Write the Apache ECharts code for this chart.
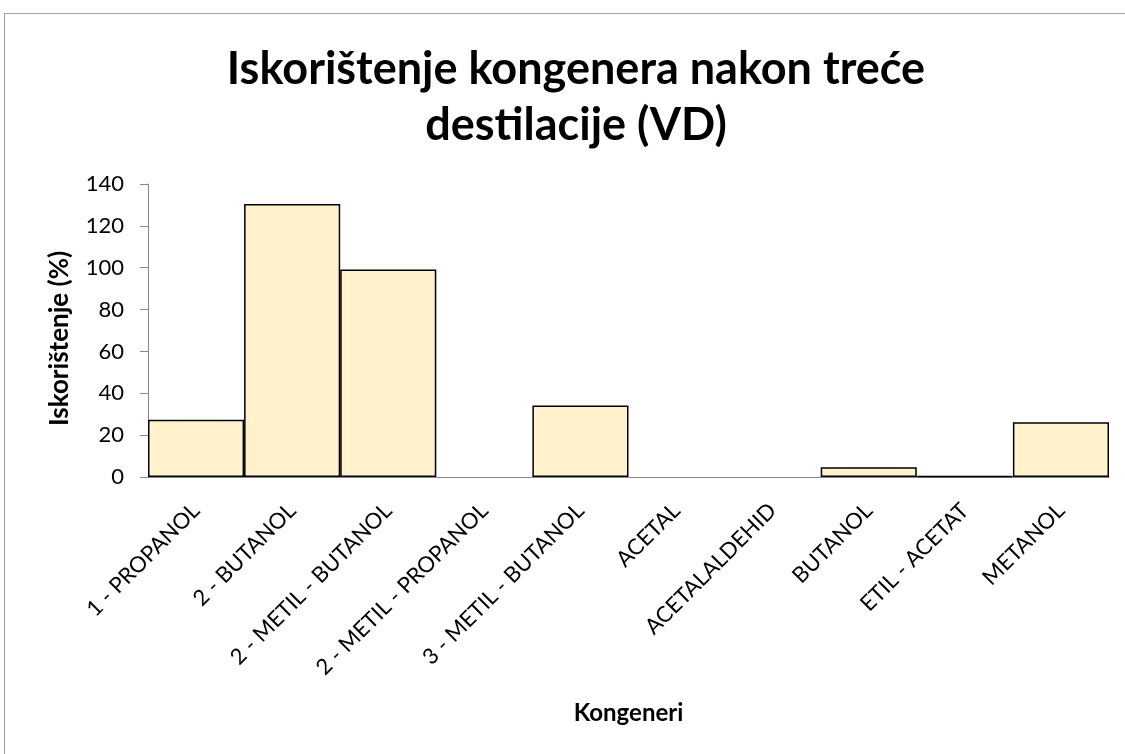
<!DOCTYPE html>
<html>
<head>
<meta charset="utf-8">
<script src="https://cdnjs.cloudflare.com/ajax/libs/echarts/6.0.0/echarts.min.js"></script>
<style>
  html, body { margin: 0; padding: 0; background: #fff; overflow: hidden; }
  #frame { position: absolute; left: 4px; top: 13px; width: 1200px; height: 800px; border: 1px solid #a0a0a0; }
  #chart { position: absolute; left: 0; top: 0; width: 1125px; height: 754px; }
</style>
</head>
<body>
<div id="frame"></div>
<div id="chart"></div>
<script>
// kongeneri i iskorištenje (%)
var categories = ['1 - PROPANOL', '2 - BUTANOL', '2 - METIL - BUTANOL', '2 - METIL - PROPANOL',
  '3 - METIL - BUTANOL', 'ACETAL', 'ACETALALDEHID', 'BUTANOL', 'ETIL - ACETAT', 'METANOL'];
var values = [27.3, 130.5, 99.2, 0, 34.2, 0, 0, 4.6, 0.4, 26.2];
var yTicks = [0, 20, 40, 60, 80, 100, 120, 140];

var font = 'Lato, "Open Sans", sans-serif';

// nule se u originalu ne vide kao crta
var barData = values.map(function (v) {
  return v === 0 ? { value: v, itemStyle: { borderWidth: 0 } } : v;
});

var option = {
  animation: false,
  title: {
    text: 'Iskorištenje kongenera nakon treće\ndestilacije (VD)',
    left: 571,
    textAlign: 'center',
    top: 36,
    textStyle: { fontFamily: font, fontSize: 45, fontWeight: 'bold', color: '#000', lineHeight: 56 }
  },
  grid: { left: 148, top: 184, right: 16, bottom: 277 },
  xAxis: {
    type: 'category',
    data: categories,
    name: 'Kongeneri',
    nameLocation: 'middle',
    nameGap: 224,
    nameTextStyle: { fontFamily: font, fontSize: 24, fontWeight: 'bold', color: '#000' },
    axisLine: { lineStyle: { color: '#888', width: 1 } },
    axisTick: { show: false },
    axisLabel: { rotate: 45, fontFamily: font, fontSize: 22, color: '#000', margin: 30, interval: 0 }
  },
  yAxis: {
    type: 'value',
    min: yTicks[0],
    max: yTicks[yTicks.length - 1],
    interval: 20,
    name: 'Iskorištenje (%)',
    nameLocation: 'middle',
    nameGap: 75,
    nameTextStyle: { fontFamily: font, fontSize: 26, fontWeight: 'bold', color: '#000', padding: [0, 16, 0, 0] },
    axisLine: { show: true, lineStyle: { color: '#888', width: 1 } },
    axisTick: { show: true, length: 8, inside: false, lineStyle: { color: '#888' } },
    splitLine: { show: false },
    axisLabel: { fontFamily: font, fontSize: 22, color: '#000', margin: 24 }
  },
  series: [{
    type: 'bar',
    data: barData,
    barCategoryGap: '0%',
    itemStyle: { color: '#FFF2CC', borderColor: '#000', borderWidth: 1.5 }
  }]
};

var myChart = echarts.init(document.getElementById('chart'));
myChart.setOption(option);
</script>
</body>
</html>
